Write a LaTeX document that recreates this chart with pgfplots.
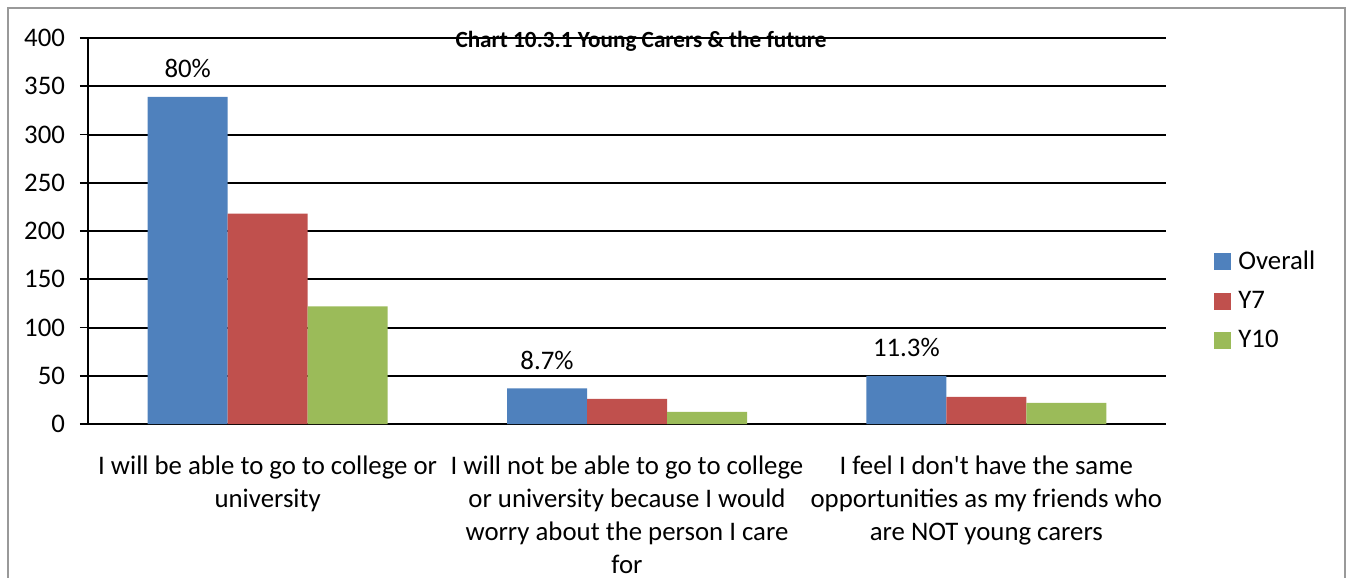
\documentclass[border=0pt]{standalone}
\usepackage{pgfplots}
\pgfplotsset{compat=1.18}
\usepackage{fontspec}
\setmainfont{Carlito}
\definecolor{cblue}{HTML}{4F81BD}
\definecolor{cred}{HTML}{C0504D}
\definecolor{cgreen}{HTML}{9BBB59}
\newcommand{\lf}{\fontsize{13.4bp}{16.4bp}\selectfont}
\begin{document}
\begin{tikzpicture}
\path[use as bounding box] (0,0) rectangle (676bp,289bp);
\draw[black!40, line width=0.9bp] (4bp,-10bp) rectangle (672.5bp,285bp);
\begin{axis}[
  at={(44bp,77bp)}, anchor=south west,
  scale only axis, width=539bp, height=193bp,
  clip=false,
  ybar=0pt, bar width=40bp,
  xmin=-0.5, xmax=2.5, ymin=0, ymax=400,
  ytick={0,50,...,400},
  xtick={0,1,2},
  xticklabels={{I will be able to go to college or\\university},
               {I will not be able to go to college\\or university because I would\\worry about the person I care\\for},
               {I feel I don\textquotesingle t have the same\\opportunities as my friends who\\are NOT young carers}},
  xticklabel style={align=center, font=\lf, yshift=-8.5bp},
  x tick style={draw=none},
  extra x ticks={-0.5,0.5,1.5,2.5},
  extra x tick labels={},
  extra x tick style={tick align=outside, major tick length=4bp, tick style={draw=black, line width=0.8bp}, grid=none},
  axis x line=bottom, axis y line=left,
  axis line style={black, line width=1bp, -},
  tick align=outside, major tick length=4bp,
  y tick style={black, line width=0.8bp},
  yticklabel style={font=\lf, xshift=-4bp},
  /pgf/number format/assume math mode=true,
  ymajorgrids, major grid style={black, line width=1bp},
  legend style={draw=none, at={(1,0.32)}, anchor=west, xshift=21bp, font=\lf, row sep=5.5bp,
    nodes={inner xsep=3.5bp}},
  legend cell align=left,
  legend image code/.code={\fill[#1] (0bp,-4.25bp) rectangle (8.5bp,4.25bp);},
]
\addplot[fill=cblue, draw=none, nodes near coords, point meta=explicit symbolic,
  every node near coord/.append style={font=\lf, text=black, anchor=south, yshift=6bp}]
  coordinates {(0,339) [80\%] (1,37) [8.7\%] (2,50) [11.3\%]};
\addplot[fill=cred, draw=none] coordinates {(0,218) (1,26) (2,28)};
\addplot[fill=cgreen, draw=none] coordinates {(0,122) (1,12.5) (2,22)};
\legend{Overall, Y7, Y10}
\node[font=\fontsize{11.6bp}{13bp}\selectfont\bfseries, anchor=center, yshift=-1.5bp] at (rel axis cs:0.513,1) {Chart 10.3.1 Young Carers \& the future};
\end{axis}
\end{tikzpicture}
\end{document}
